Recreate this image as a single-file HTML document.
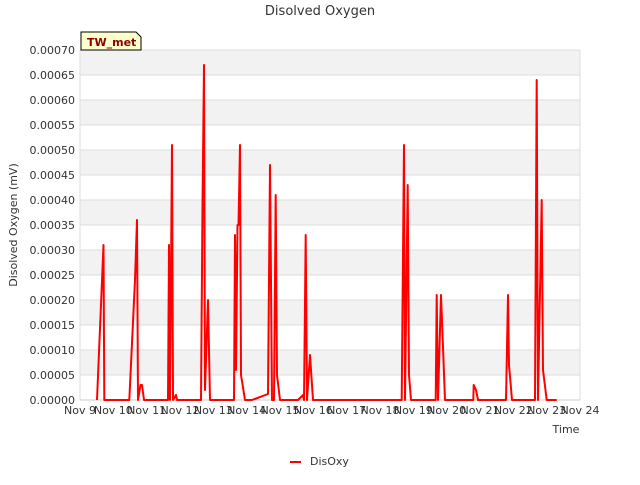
<!DOCTYPE html>
<html><head><meta charset="utf-8"><style>body{margin:0;background:#fff}svg{font-family:"DejaVu Sans","Liberation Sans",sans-serif}</style></head>
<body>
<svg id="c" width="640" height="480">
<text x="320" y="15" text-anchor="middle" font-size="13" fill="#333">Disolved Oxygen</text>
<g id="grid"></g><g id="axes"></g>
<path id="line" fill="none" stroke="#ff0000" stroke-width="2" stroke-linejoin="round"></path>
<text transform="translate(17,225) rotate(-90)" text-anchor="middle" font-size="11" fill="#333">Disolved Oxygen (mV)</text>
<text x="566" y="433" text-anchor="middle" font-size="11" fill="#333">Time</text>
<g><path d="M81,32 H136 L141,37 V50 H81 Z" fill="#ffffcc" stroke="#000" stroke-width="1"/><text x="87" y="46" font-size="11" font-weight="bold" fill="#8b0000">TW_met</text></g>
<g><line x1="290" y1="462" x2="301" y2="462" stroke="#ff0000" stroke-width="2"/><text x="310" y="465" font-size="11" fill="#333">DisOxy</text></g>
</svg>
<script>
const days=[0.51,0.705,0.73,1.48,1.65,1.71,1.74,1.815,1.86,1.92,2.64,2.67,2.70,2.76,2.79,2.88,2.91,3.63,3.675,3.72,3.75,3.84,3.90,4.62,4.65,4.68,4.725,4.755,4.80,4.83,4.95,5.16,5.64,5.70,5.76,5.82,5.87,5.91,6.00,6.54,6.69,6.72,6.77,6.81,6.90,6.99,9.65,9.72,9.75,9.83,9.87,9.93,10.67,10.70,10.74,10.83,10.95,11.80,11.81,11.88,11.94,12.78,12.84,12.87,12.96,13.65,13.70,13.74,13.85,13.89,14.00,14.30];
const values=[0,0.00031,0,0,0.00024,0.00036,0,0.00003,0.00003,0,0,0.00031,0,0.00051,0,0.00001,0,0,0.00039,0.00067,0.00002,0.0002,0,0,0.00033,0.00006,0.00035,0.00035,0.00051,0.00005,0,0,0.000012,0.00047,0,0,0.00041,0.00005,0,0,0.00001,0,0.00033,0,0.00009,0,0,0.00051,0,0.00043,0.00005,0,0,0.00021,0,0.00021,0,0,0.00003,0.00002,0,0,0.00021,0.00007,0,0,0.00064,0,0.0004,0.00006,0,0];
const xTickLabels=["Nov 9","Nov 10","Nov 11","Nov 12","Nov 13","Nov 14","Nov 15","Nov 16","Nov 17","Nov 18","Nov 19","Nov 20","Nov 21","Nov 22","Nov 23","Nov 24"];
const yTicks=[0,0.00005,0.0001,0.00015,0.0002,0.00025,0.0003,0.00035,0.0004,0.00045,0.0005,0.00055,0.0006,0.00065,0.0007];
const L=80,R=580,T=50,B=400,ymax=0.0007,dmax=15;
const X=d=>L+d/dmax*(R-L), Y=v=>B-v/ymax*(B-T);
const ns="http://www.w3.org/2000/svg";
const grid=document.getElementById('grid'),axes=document.getElementById('axes');
function mk(p,tag,a){const e=document.createElementNS(ns,tag);for(const k in a)e.setAttribute(k,a[k]);p.appendChild(e);return e;}
for(let i=0;i<yTicks.length-1;i++){
 const y0=Y(yTicks[i+1]),y1=Y(yTicks[i]);
 const band=mk(grid,'rect',{x:L,y:y0,width:R-L,height:y1-y0,fill:(yTicks.length-2-i)%2===0?'#f2f2f2':'#ffffff'});
 
 
}
yTicks.forEach(v=>{
 const gl=mk(grid,'line',{x1:L,x2:R,y1:Y(v),y2:Y(v),stroke:'#dddddd'});
 
 
 const t=mk(axes,'text',{x:L-5,y:Y(v)+4,'text-anchor':'end','font-size':'11',fill:'#333'});
 t.textContent=v.toFixed(5);
 
 
});
mk(grid,'line',{x1:L,x2:L,y1:T,y2:B,stroke:'#dddddd'});
mk(grid,'line',{x1:R,x2:R,y1:T,y2:B,stroke:'#dddddd'});
xTickLabels.forEach((s,i)=>{
 const t=mk(axes,'text',{x:X(i),y:B+14,'text-anchor':'middle','font-size':'11',fill:'#333'});
 t.textContent=s;
 
 
});
mk(axes,'line',{x1:L,x2:R,y1:B,y2:B,stroke:'#cccccc'});
document.getElementById('line').setAttribute('d',days.map((d,i)=>(i?'L':'M')+X(d).toFixed(1)+','+Y(values[i]).toFixed(1)).join(''));
</script>
</body></html>
